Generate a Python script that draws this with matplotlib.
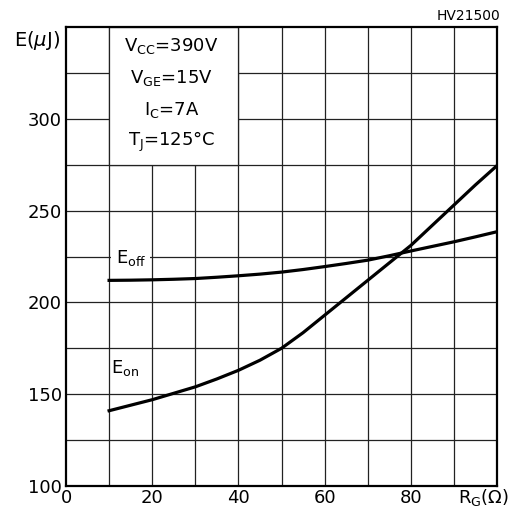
import numpy as np
import matplotlib.pyplot as plt
from matplotlib.patches import Rectangle

# values
rg = [10, 15, 20, 25, 30, 35, 40, 45, 50, 55, 60, 65, 70, 75, 80, 85, 90, 95, 100]
e_off = [212, 212.1, 212.3, 212.6, 213, 213.7, 214.5, 215.4, 216.5, 217.9,
         219.5, 221.2, 223, 225.4, 228, 230.5, 233, 235.7, 238.5]
e_on = [141, 144, 147, 150.5, 154, 158.3, 163, 168.5, 175, 183.5,
        193, 202.5, 212, 221.5, 231, 242, 253, 264, 274.5]

x_ticks = [0, 20, 40, 60, 80]
y_ticks = [100, 150, 200, 250, 300]

conditions = [r"V$_{\mathrm{CC}}$=390V", r"V$_{\mathrm{GE}}$=15V",
              r"I$_{\mathrm{C}}$=7A", r"T$_{\mathrm{J}}$=125°C"]

plt.rcParams['font.family'] = ['DejaVu Sans']
plt.rcParams['mathtext.fontset'] = 'dejavusans'

fig = plt.figure(figsize=(5.12, 5.12), dpi=100)
ax = fig.add_axes([66 / 512, 1 - 486 / 512, 431 / 512, 459 / 512])

ax.set_xlim(0, 100)
ax.set_ylim(100, 350)

# grid
for xv in np.arange(10, 100, 10):
    ax.axvline(xv, color='#222222', lw=0.9, zorder=1)
for yv in np.arange(125, 350, 25):
    ax.axhline(yv, color='#222222', lw=0.9, zorder=1)

# blank box for the test conditions
ax.add_patch(Rectangle((10, 275), 30, 75, facecolor='white', edgecolor='#222222',
                       lw=0.9, zorder=2))
# gap behind the E_off label
ax.add_patch(Rectangle((10.4, 219), 9.2, 12, facecolor='white', edgecolor='none', zorder=2))

ax.plot(rg, e_off, color='black', lw=2.3, zorder=3)
ax.plot(rg, e_on, color='black', lw=2.3, zorder=3)

for i, s in enumerate(conditions):
    ax.text(24.5, 339.5 - i * 17.4, s, ha='center', va='center', fontsize=13, zorder=4)

ax.text(11.5, 224, r"E$_{\mathrm{off}}$", ha='left', va='center', fontsize=13, zorder=4)
ax.text(10.5, 164, r"E$_{\mathrm{on}}$", ha='left', va='center', fontsize=13, zorder=4)

for sp in ax.spines.values():
    sp.set_linewidth(1.6)
    sp.set_zorder(5)

ax.set_xticks(x_ticks)
ax.set_yticks(y_ticks)
ax.tick_params(length=0, labelsize=13, pad=3)
ax.tick_params(axis='x', pad=2)

fig.text(60 / 512, 1 - 41 / 512, r"E($\mu$J)", ha='right', va='center', fontsize=14)
fig.text(509 / 512, 1 - 497 / 512, r"R$_{\mathrm{G}}$($\Omega$)", ha='right', va='center',
         fontsize=13)
fig.text(500 / 512, 1 - 16 / 512, "HV21500", ha='right', va='center', fontsize=10)

fig.savefig('out.png', dpi=100)
